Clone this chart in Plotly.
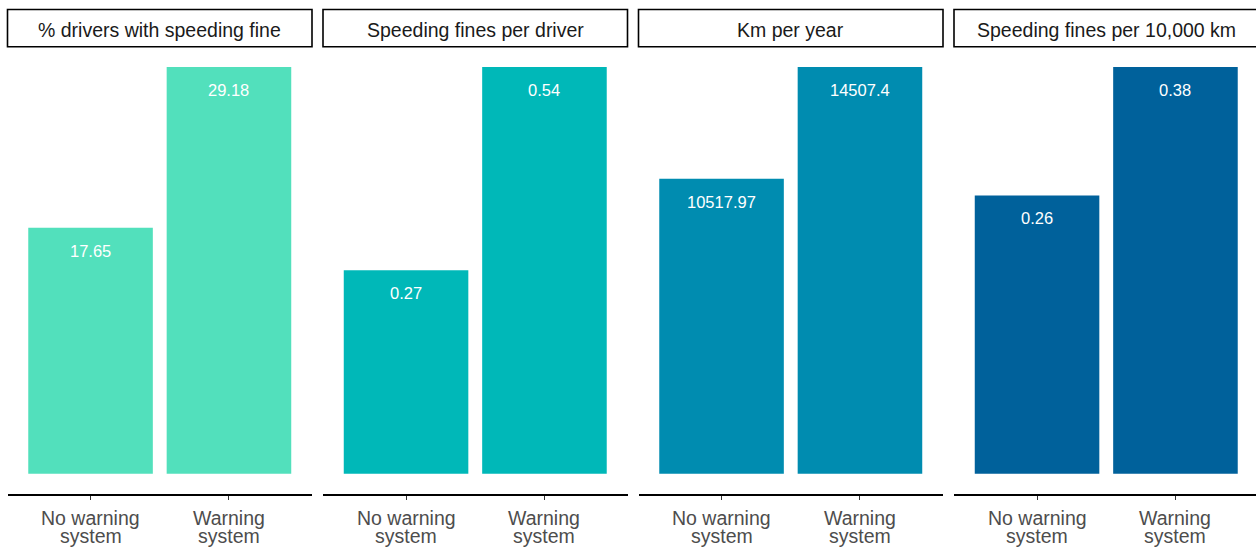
import plotly.graph_objects as go

# ---- data ----
categories = ["No warning\nsystem", "Warning\nsystem"]
panel_titles = ["% drivers with speeding fine", "Speeding fines per driver",
                "Km per year", "Speeding fines per 10,000 km"]
pct_drivers = [17.65, 29.18]
fines_per_driver = [0.27, 0.54]
km_per_year = [10517.97, 14507.4]
fines_per_10k = [0.26, 0.38]
series = [pct_drivers, fines_per_driver, km_per_year, fines_per_10k]
colors = ["#52E0BC", "#00B8B8", "#008CB0", "#00619B"]

# ---- layout geometry (pixels) ----
W, H = 1256, 548
panel_left = [7.5, 323.0, 638.5, 954.0]
panel_w = 304.5
plot_top_px, plot_bot_px = 46.7, 494.0
strip_top_px = 9.5
FONT = "Liberation Sans, Arial, sans-serif"

fig = go.Figure()
layout = dict(
    width=W, height=H, margin=dict(l=0, r=0, t=0, b=0),
    paper_bgcolor="white", plot_bgcolor="white", showlegend=False,
    font=dict(family=FONT),
)
annotations = []
shapes = []
ydom = [(H - plot_bot_px) / H, (H - plot_top_px) / H]

for i, (title, vals, col) in enumerate(zip(panel_titles, series, colors)):
    n = i + 1
    xa = "x" if n == 1 else f"x{n}"
    ya = "y" if n == 1 else f"y{n}"
    x0 = panel_left[i] / W
    x1 = min((panel_left[i] + panel_w) / W, 1.0)
    vis_w = (min(panel_left[i] + panel_w, W) - panel_left[i])
    xrange = [-0.6, -0.6 + 2.2 * vis_w / panel_w]
    m = max(vals)
    fig.add_trace(go.Bar(
        x=categories, y=vals, width=0.9, marker=dict(color=col, line=dict(width=0)),
        xaxis=xa, yaxis=ya, hoverinfo="skip",
    ))
    layout[f"xaxis{'' if n == 1 else n}"] = dict(
        domain=[x0, x1], anchor=ya, type="category", range=xrange,
        showline=True, linecolor="black", linewidth=1.5,
        ticks="outside", ticklen=4, tickcolor="#333333", tickwidth=1,
        showticklabels=False, showgrid=False, zeroline=False, fixedrange=True,
    )
    layout[f"yaxis{'' if n == 1 else n}"] = dict(
        domain=ydom, anchor=xa, range=[-0.05 * m, 1.05 * m],
        showline=False, showticklabels=False, ticks="", showgrid=False,
        zeroline=False, fixedrange=True,
    )
    # value labels
    for c, v in zip(categories, vals):
        annotations.append(dict(
            x=c, y=v, xref=xa, yref=ya, text=str(v), showarrow=False,
            yanchor="middle", yshift=-23,
            font=dict(family=FONT, size=16.5, color="white"),
        ))
    # category labels (two lines, tight line height)
    for c in categories:
        for k, line in enumerate(c.split("\n")):
            annotations.append(dict(
                x=c, y=0, xref=xa, yref=f"{ya} domain", text=line, showarrow=False,
                yanchor="middle", yshift=-23.5 - 18 * k, borderpad=0,
                font=dict(family=FONT, size=19.5, color="#4D4D4D"),
            ))
    # strip box + title
    sx0 = panel_left[i] / W
    sx1 = (panel_left[i] + panel_w) / W
    shapes.append(dict(
        type="rect", xref="paper", yref="paper",
        x0=sx0, x1=sx1, y0=(H - plot_top_px) / H, y1=(H - strip_top_px) / H,
        line=dict(color="black", width=1.6), fillcolor="white", layer="below",
    ))
    annotations.append(dict(
        x=(panel_left[i] + panel_w / 2) / W, y=(H - 30.0) / H, xref="paper", yref="paper",
        text=title, showarrow=False, yanchor="middle", xanchor="center",
        font=dict(family=FONT, size=19.5, color="#1A1A1A"),
    ))

layout["annotations"] = annotations
layout["shapes"] = shapes
fig.update_layout(**layout)
fig.write_html(
    "out.html",
    config={"displayModeBar": False},
    post_script="document.body.style.margin='0';document.body.style.overflow='hidden';",
)
